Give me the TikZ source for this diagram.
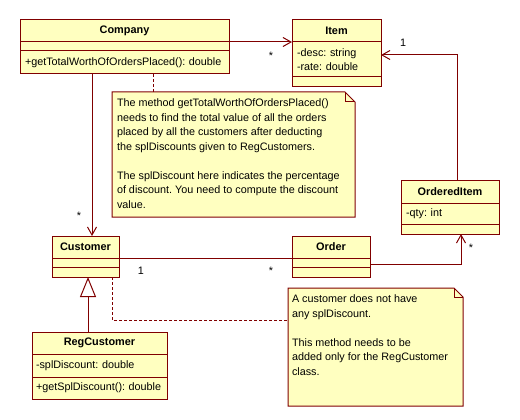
\documentclass[tikz,border=0pt]{standalone}
\usepackage{fontspec}
\setmainfont{Liberation Sans}
\usepackage{pgf,tikz}
\usetikzlibrary{positioning,arrows.meta}
\definecolor{umlred}{RGB}{128,0,0}
\definecolor{umlyellow}{RGB}{255,255,192}
\tikzstyle{classname} = [draw=umlred, fill=umlyellow, line width=1pt, rectangle, outer sep=0pt, inner xsep=5pt, inner ysep=0pt, align=center, font=\fontsize{10.9}{14.5}\selectfont\frenchspacing\bfseries]
\tikzstyle{compart} = [draw=umlred, fill=umlyellow, line width=1pt, rectangle, outer sep=0pt, inner xsep=5pt, inner ysep=0pt, align=left]
\tikzstyle{note} = [fill=umlyellow, rectangle, outer sep=0pt, inner sep=5pt]
\tikzstyle{notefold} = [draw=umlred, line width=1pt]
\tikzstyle{assoc} = [draw=umlred, line width=1pt, -{Straight Barb[length=8pt,width=9pt]}]
\tikzstyle{inherit} = [draw=umlred, line width=1pt, -{Triangle[length=20pt,width=16pt,fill=white]}]
\tikzstyle{link} = [draw=umlred, line width=1pt]
\tikzstyle{notelink} = [draw=umlred, line width=1pt, dash pattern=on 3pt off 2pt]
\tikzstyle{mult} = [inner sep=0pt]

\begin{document}
\begin{tikzpicture}[x=1pt, y=-1pt, font=\fontsize{10.8}{14.5}\selectfont\frenchspacing]
	\useasboundingbox (0,0) rectangle (520,420);

	\node[classname, text width=199pt, minimum height=22pt] (company) at (124.5,31) {Company};
	\node[compart, text width=199pt, minimum height=9pt, below=0pt of company] (company-attr) {};
	\node[compart, text width=199pt, minimum height=23pt, below=0pt of company-attr] (company-op) {+getTotalWorthOfOrdersPlaced(): double};

	\node[classname, text width=79pt, minimum height=22pt] (item) at (336.5,31) {Item};
	\node[compart, text width=79pt, minimum height=35pt, below=0pt of item] (item-attr) {-desc: string\\-rate: double};
	\node[compart, text width=79pt, minimum height=10pt, below=0pt of item-attr] (item-op) {};

	\node[classname, text width=88pt, minimum height=23pt] (oitem) at (450,191.5) {OrderedItem};
	\node[compart, text width=88pt, minimum height=21pt, below=0pt of oitem] (oitem-attr) {-qty: int};
	\node[compart, text width=88pt, minimum height=10pt, below=0pt of oitem-attr] (oitem-op) {};

	\node[classname, text width=57pt, minimum height=22pt] (cust) at (85.5,247) {Customer};
	\node[compart, text width=57pt, minimum height=9pt, below=0pt of cust] (cust-attr) {};
	\node[compart, text width=57pt, minimum height=10pt, below=0pt of cust-attr] (cust-op) {};

	\node[classname, text width=125pt, minimum height=22pt] (reg) at (99.5,343) {RegCustomer};
	\node[compart, text width=127pt, inner xsep=4pt, minimum height=23pt, below=0pt of reg] (reg-attr) {-splDiscount: double};
	\node[compart, text width=127pt, inner xsep=4pt, minimum height=22pt, below=0pt of reg-attr] (reg-op) {+getSplDiscount():~double};

	\node[classname, text width=68pt, minimum height=22pt] (order) at (331,247) {Order};
	\node[compart, text width=68pt, minimum height=9pt, below=0pt of order] (order-attr) {};
	\node[compart, text width=68pt, minimum height=10pt, below=0pt of order-attr] (order-op) {};

	\node[note] (note1) at (233.5,154.5) {
		\begin{minipage}[c][115pt][t]{233pt}
			\vspace*{2pt}
			The method getTotalWorthOfOrdersPlaced()\\
			needs to find the total value of all the orders\\
			placed by all the customers after deducting\\
			the splDiscounts given to RegCustomers.\\[14.5pt]
			The splDiscount here indicates the percentage\\
			of discount. You need to compute the discount\\
			value.
		\end{minipage}
		};
	\fill[white] ([xshift=-10pt]note1.north east) -- (note1.north east) -- ([yshift=-10pt]note1.north east) -- cycle;
	\draw[notefold] (note1.south west) -- (note1.north west) -- ([xshift=-10pt]note1.north east) -- ([yshift=-10pt]note1.north east) -- (note1.south east) -- cycle;
	\draw[notefold] ([xshift=-10pt]note1.north east) |- ([yshift=-10pt]note1.north east);

	\node[note, inner sep=4pt] (note2) at (375.5,347) {
		\begin{minipage}[c][110pt][t]{167pt}
			\vspace*{3pt}
			A customer does not have\\
			any splDiscount.\\[14.5pt]
			This method needs to be\\
			added only for the RegCustomer\\
			class.
		\end{minipage}
		};
	\fill[white] ([xshift=-9pt]note2.north east) -- (note2.north east) -- ([yshift=-9pt]note2.north east) -- cycle;
	\draw[notefold] (note2.south west) -- (note2.north west) -- ([xshift=-9pt]note2.north east) -- ([yshift=-9pt]note2.north east) -- (note2.south east) -- cycle;
	\draw[notefold] ([xshift=-9pt]note2.north east) |- ([yshift=-9pt]note2.north east);

	\draw[assoc] (company.south east) -- (item.south west) node[mult, pos=1, xshift=-21pt, yshift=-14pt] {*};
	\draw[assoc] ([xshift=-32.5pt]company-op.south) -- ([xshift=6.5pt]cust.north) node[mult, pos=1, xshift=-13pt, yshift=20pt] {*};
	\draw[assoc] ([xshift=7pt]oitem.north) |- ([yshift=4.5pt]item-attr.east) node[mult, pos=1, xshift=22pt, yshift=12pt] {1};
	\draw[assoc] ([yshift=-1.5pt]order-attr.east) -| ([xshift=11pt]oitem-op.south) node[mult, pos=1, xshift=10pt, yshift=-14pt] {*};
	\draw[link] (cust.south east) -- (order.south west) node[mult, pos=0, xshift=22pt, yshift=-13pt] {1} node[mult, pos=1, xshift=-21pt, yshift=-13pt] {*};
	\draw[inherit] ([xshift=-11.5pt]reg.north) -- ([xshift=2.5pt]cust-op.south);

	\coordinate (n1top) at ([xshift=28.5pt]company-op.south);
	\draw[notelink] (n1top) -- (n1top |- note1.north);
	\draw[notelink] ([xshift=26.5pt]cust-op.south) |- ([yshift=27pt]note2.west);
\end{tikzpicture}
\end{document}
